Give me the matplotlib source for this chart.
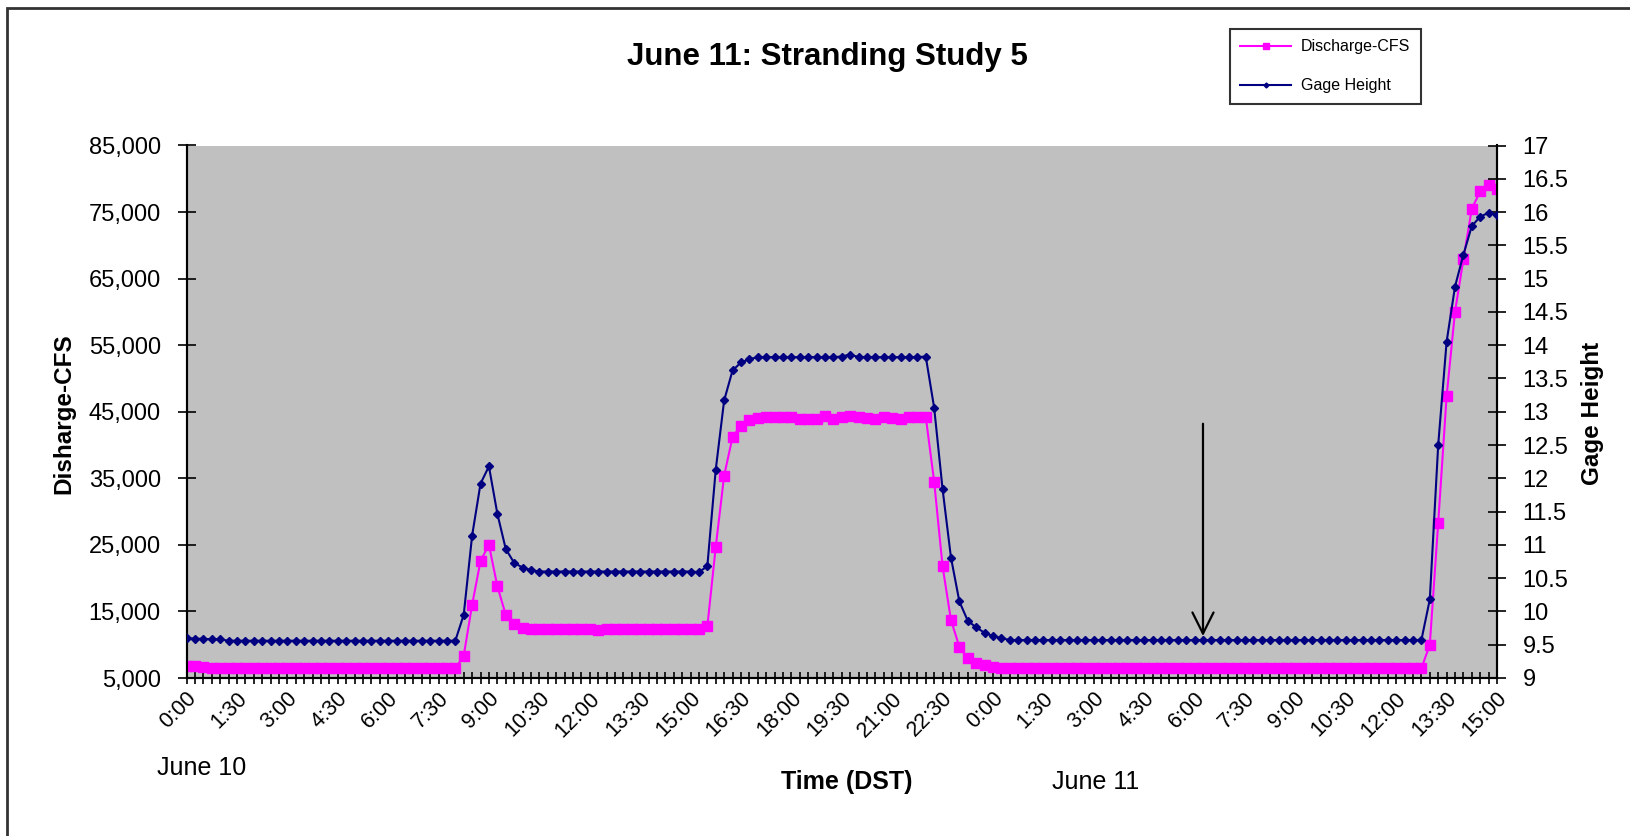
import numpy as np
import matplotlib
matplotlib.use("Agg")
import matplotlib.pyplot as plt
from matplotlib.patches import Rectangle
from matplotlib.transforms import ScaledTranslation

plt.rcParams['font.family'] = ['Liberation Sans', 'DejaVu Sans']

# 15-minute readings, 0:00 June 10 through 15:00 June 11
discharge = [
    6750, 6750, 6700, 6450, 6450, 6450, 6450, 6450, 6450, 6450,
    6450, 6450, 6450, 6450, 6450, 6450, 6450, 6450, 6450, 6450,
    6450, 6450, 6450, 6450, 6450, 6450, 6450, 6450, 6450, 6450,
    6450, 6450, 6450, 8350, 16000, 22600, 25000, 18800, 14500, 13100,
    12500, 12350, 12300, 12300, 12300, 12300, 12300, 12300, 12300, 12200,
    12300, 12300, 12300, 12300, 12300, 12300, 12300, 12300, 12300, 12300,
    12300, 12300, 12750, 24700, 35400, 41200, 42900, 43700, 44050, 44200,
    44200, 44200, 44200, 43900, 43900, 43900, 44300, 43900, 44200, 44300,
    44200, 44050, 43900, 44200, 44050, 43900, 44200, 44200, 44250, 34500,
    21800, 13700, 9700, 7950, 7300, 6950, 6650, 6500, 6450, 6450,
    6450, 6450, 6450, 6450, 6450, 6450, 6450, 6450, 6450, 6450,
    6450, 6450, 6450, 6450, 6450, 6450, 6450, 6450, 6450, 6450,
    6450, 6450, 6450, 6450, 6450, 6450, 6450, 6450, 6450, 6450,
    6450, 6450, 6450, 6450, 6450, 6450, 6450, 6450, 6450, 6450,
    6450, 6450, 6450, 6450, 6450, 6450, 6450, 6450,
    10000, 28300, 47300, 60000, 67900, 75500, 78100, 79100, 78400,
]

gage = [
    9.60, 9.59, 9.59, 9.58, 9.58, 9.56, 9.56, 9.56, 9.56, 9.56,
    9.56, 9.56, 9.56, 9.56, 9.56, 9.56, 9.56, 9.56, 9.56, 9.56,
    9.56, 9.56, 9.56, 9.56, 9.56, 9.56, 9.56, 9.56, 9.56, 9.56,
    9.56, 9.56, 9.56, 9.95, 11.14, 11.92, 12.18, 11.47, 10.94, 10.73,
    10.66, 10.62, 10.60, 10.60, 10.60, 10.60, 10.60, 10.60, 10.60, 10.60,
    10.60, 10.60, 10.60, 10.60, 10.60, 10.60, 10.60, 10.60, 10.60, 10.60,
    10.60, 10.59, 10.68, 12.13, 13.17, 13.62, 13.74, 13.79, 13.82, 13.82,
    13.82, 13.82, 13.82, 13.82, 13.82, 13.82, 13.82, 13.82, 13.83, 13.86,
    13.82, 13.82, 13.82, 13.82, 13.82, 13.82, 13.82, 13.82, 13.83, 13.06,
    11.84, 10.81, 10.15, 9.86, 9.76, 9.68, 9.63, 9.60, 9.57, 9.57,
    9.57, 9.57, 9.57, 9.57, 9.57, 9.57, 9.57, 9.57, 9.57, 9.57,
    9.57, 9.57, 9.57, 9.57, 9.57, 9.57, 9.57, 9.57, 9.57, 9.57,
    9.57, 9.57, 9.57, 9.57, 9.57, 9.57, 9.57, 9.57, 9.57, 9.57,
    9.57, 9.57, 9.57, 9.57, 9.57, 9.57, 9.57, 9.57, 9.57, 9.57,
    9.57, 9.57, 9.57, 9.57, 9.57, 9.57, 9.57, 9.57,
    10.18, 12.50, 14.05, 14.88, 15.36, 15.79, 15.93, 15.99, 15.96,
]

time_labels = [
    "0:00", "1:30", "3:00", "4:30", "6:00", "7:30", "9:00", "10:30", "12:00",
    "13:30", "15:00", "16:30", "18:00", "19:30", "21:00", "22:30", "0:00",
    "1:30", "3:00", "4:30", "6:00", "7:30", "9:00", "10:30", "12:00",
    "13:30", "15:00",
]

# arrow marking 6:15 June 11 on the gage axis
arrow_x = 121
arrow_top = 12.82
arrow_tip = 9.63

W, H = 1630, 836
fig = plt.figure(figsize=(W / 100, H / 100), dpi=100)
fig.patch.set_facecolor('white')

def fx(px):
    return px / W

def fy(py):
    return 1 - py / H

left, right, top, bottom = 186.5, 1497, 145.5, 678
ax = fig.add_axes([fx(left), fy(bottom), fx(right - left), (bottom - top) / H])
ax.set_facecolor('#C0C0C0')
ax2 = ax.twinx()

x = np.arange(len(discharge))
l1, = ax.plot(x, discharge, color='#FF00FF', lw=1.5, marker='s', ms=6.5,
              mfc='#FF00FF', mec='#FF00FF', label='Discharge-CFS', zorder=3)
l2, = ax2.plot(x, gage, color='#000080', lw=1.5, marker='D', ms=4.2,
               mfc='#000080', mec='#000080', label='Gage Height', zorder=3)

ax.set_xlim(0, len(discharge) - 1)
ax.set_ylim(5000, 85000)
ax2.set_ylim(9, 17)

yt = np.arange(5000, 85001, 10000)
ax.set_yticks(yt)
ax.set_yticklabels([f"{v:,}" for v in yt], fontsize=17)
gt = np.arange(9, 17.01, 0.5)
ax2.set_yticks(gt)
ax2.set_yticklabels([f"{v:g}" for v in gt], fontsize=17)

ax.set_xticks(np.arange(0, len(discharge), 6))
ax.set_xticks(x, minor=True)
ax.set_xticklabels(time_labels, fontsize=15.5, rotation=45,
                   ha='right', va='center', rotation_mode='anchor')
ax.tick_params(axis='x', which='both', direction='inout', length=9,
               width=1.2, pad=8)
for lab in ax.get_xticklabels():
    lab.set_transform(lab.get_transform() + ScaledTranslation(0.07, 0, fig.dpi_scale_trans))
ax.tick_params(axis='y', direction='inout', length=13, width=1.2, pad=12)
ax2.tick_params(axis='y', direction='inout', length=13, width=1.2, pad=12)

for a in (ax, ax2):
    a.spines['top'].set_visible(False)
    for s in ('left', 'right', 'bottom'):
        a.spines[s].set_linewidth(1.5)
        a.spines[s].set_color('black')

ax2.annotate('', xy=(arrow_x, arrow_tip), xytext=(arrow_x, arrow_top),
             arrowprops=dict(arrowstyle='->', color='black', lw=1.6,
                             mutation_scale=38, shrinkA=0, shrinkB=0))

fig.text(fx(827), fy(57), 'June 11: Stranding Study 5', ha='center', va='center',
         fontsize=22.5, fontweight='bold')
fig.text(fx(64), fy(414), 'Disharge-CFS', rotation=90, ha='center', va='center',
         fontsize=17.5, fontweight='bold')
fig.text(fx(1593), fy(413), 'Gage Height', rotation=90, ha='center', va='center',
         fontsize=17.5, fontweight='bold')
fig.text(fx(847), fy(782), 'Time (DST)', ha='center', va='center',
         fontsize=18, fontweight='bold')
fig.text(fx(202), fy(768), 'June 10', ha='center', va='center', fontsize=18)
fig.text(fx(1096), fy(782), 'June 11', ha='center', va='center', fontsize=18)

leg = fig.legend(handles=[l1, l2], loc='upper left',
                 bbox_to_anchor=(fx(1230), fy(29)), borderaxespad=0,
                 fontsize=11.5, markerscale=0.6, frameon=True, fancybox=False,
                 handlelength=3.2, handletextpad=0.6, borderpad=0.65,
                 labelspacing=1.5)
leg.get_frame().set_edgecolor('black')
leg.get_frame().set_linewidth(1.5)

fig.add_artist(Rectangle((fx(7), -0.1), 1.2, fy(8) + 0.1, transform=fig.transFigure,
                         fill=False, edgecolor='#333333', lw=2))

fig.savefig('out.png', dpi=100)
